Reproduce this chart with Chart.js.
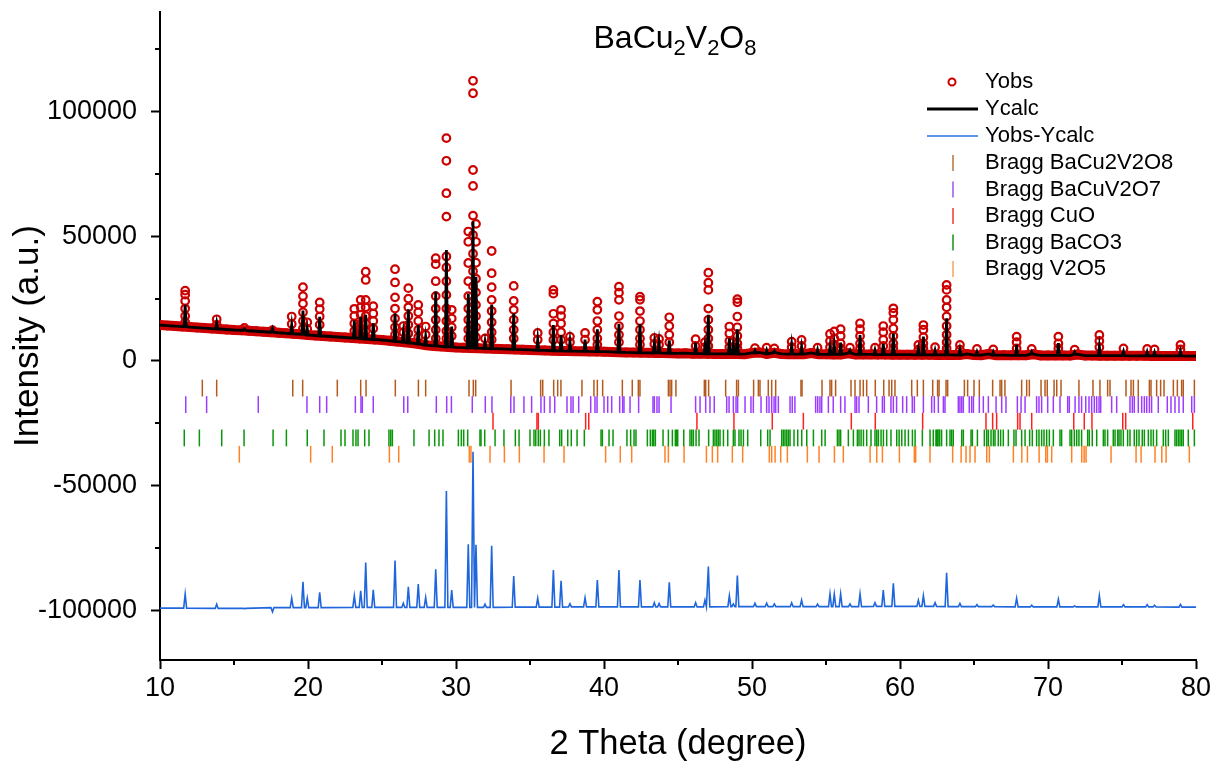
<!DOCTYPE html>
<html>
<head>
<meta charset="utf-8">
<script src="https://cdn.jsdelivr.net/npm/chart.js@4.4.1/dist/chart.umd.min.js"></script>
<style>
  body { margin: 0; background: #fff; }
</style>
</head>
<body>
<canvas id="xrd" width="1214" height="762"></canvas>
<script>
// observed background band, every 0.5 degree from 10 to 80
const bgStart = 10, bgStep = 0.5;
const bgObs = [
  14400,14200,14000,13800,13600,13400,13200,13000,12800,12600,
  12400,12300,12100,11900,11700,11500,11300,11100,10900,10700,
  10400,10200,10000,9800,9600,9400,9200,9000,8800,8600,
  8400,8100,7800,7500,7200,6800,6300,6000,5800,5600,
  5400,5300,5200,5100,5000,4900,4800,4700,4600,4500,
  4400,4300,4200,4100,4000,3950,3900,3850,3800,3750,
  3700,3600,3500,3400,3350,3300,3250,3200,3150,3100,
  3000,3100,2900,2900,2850,2800,2800,2800,2750,2700,
  3200,3400,2800,3300,2800,2700,2700,2700,3200,2700,
  2650,2600,2600,3100,2600,2600,2600,2550,2550,2500,
  2500,2500,2450,2450,2450,2400,2400,2400,2350,2800,
  2350,2300,2800,2300,2300,2250,2250,2250,2700,2200,
  2200,2200,2200,2150,2600,2150,2150,2100,2100,2100,
  2100,2050,2050,2050,2000,2000,2000,2000,2000,1950,
  1950
];

// difference curve baseline, every 5 degrees from 10 to 80
const diffBase = [-99200,-99300,-99000,-98900,-98900,-98800,-98700,-98700,-98600,-98600,-98500,-98600,-98700,-98700,-98800];

// reflections: position, observed circles, calc top, difference top
const peakPos = [11.7,13.83,15.7,17.6,18.9,19.66,19.95,20.79,23.13,23.56,23.9,24.41,25.88,26.44,26.78,27.45,27.95,28.63,29.35,29.71,
  30.83,31.15,31.35,31.96,32.41,33.9,35.52,36.58,37.1,37.7,38.72,39.55,41.01,42.43,43.4,43.72,44.41,46.19,46.82,47.05,
  48.47,48.74,49.01,50.2,50.99,51.51,52.68,53.35,54.43,55.27,55.56,55.99,56.62,57.3,58.31,58.87,59.55,61.24,61.58,62.37,
  63.15,64.05,65.2,66.3,67.88,68.9,70.7,71.8,73.47,75.1,76.7,77.2,78.95];

const obsCircles = [
  [28200,26600,24000,21000,18000,15500],[16700,14500],[13200],[12300],[17800,14800],
  [29600,26000,23000,19500,16000,13000],[15500,12800],[23500,20800,17800,14500],[20900,18000,15000,12000],[24500,21500,18500,15000,12000],
  [35800,32500,24500,21500,18000,15000,12000],[22000,19000,16000,13000],[36800,31500,25500,21000,17000,13500,10500],[14000,11500],[29200,25000,21500,18000,14500,11000],
  [22500,19500,16000,12500,9500],[13800,10500],[41200,38800,32000,26000,21000,16500,12500,9000],
  [89400,80300,67300,57900,41900,37500,32000,26500,21000,16000,12000,9000],[20500,17000,13500,10000],
  [51900,47800,39300,32000,26000,21000,16500,12500,9000],
  [112400,107400,76600,70200,58300,50500,43000,36000,30000,24000,19000,14500,10500],
  [55000,47800,39400,33000,27500,22500,18000,13500,9500],[9000],[44100,35200,29600,24500,20000,15500,11500,8500],
  [30100,24100,20500,16500,12500,9000],[11200,8500],[28500,27000,18900,15000,11500,8500],[20500,18000,15000,11500,8500],[9750,7500],
  [11200,8500],[23800,20500,16000,12500,9000,6500],[29800,27400,24500,18000,14000,10500,7500],[25800,24500,20000,16000,12500,9000,6500],[9200,6800],
  [8800,6500],[17500,14000,10500,7500],[8700,6000],[7500,5500],[35400,31400,28500,21000,16500,12500,9000,6000],
  [13800,11000,8000,5500],[7500,5500],[24800,23500,17800,13500,10000,7000,5000],[5100],[5300],
  [5000],[7700,5500],[8400,6000],[5300],[10800,8000,5500],
  [11800,9000,6500],[12700,10000,7000,5000],[5300],[15100,12700,10000,7000,5000],[5300],
  [14000,11500,8500,6000],[21100,19300,16500,13000,10000,7000,5000],[6400,4500],[14400,12500,9500,7000,5000],[5500],
  [30500,28500,24500,21500,17800,14000,10500,7500,5000],[6400,4500],[4800],[4600],[9750,7500,5000],
  [4800],[9750,7000,5000],[4500],[10400,8000,5500],[5000],[4800],[4600],[6400,4600]
];

const calcTop = [22500,15200,12800,13000,14400,20200,13000,17700,16200,17800,18500,15100,19100,11200,20700,14400,9750,27800,44500,13800,
  26900,55900,33800,7700,22500,19100,8400,14400,10400,7700,8500,12700,14800,14800,7000,7200,8200,7300,6000,18500,
  9100,6000,12700,4200,4200,4000,6400,5600,4400,5600,6400,7300,4300,10400,4300,6800,11100,4800,9750,4200,
  17100,4500,3600,3500,6400,3600,7100,3500,5600,3800,3500,3400,3800];

const diffTop = [-93600,-97600,-99400,-100700,-95200,-88600,-95200,-92800,-94200,-92200,-80900,-91800,-80100,-97200,-90600,-89500,-94900,-83600,-52200,-91900,
  -73600,-36400,-73800,-97600,-74200,-86300,-95200,-83900,-88200,-97400,-95000,-87900,-83900,-87900,-97000,-97300,-88800,-97000,-96000,-82500,
  -94200,-97500,-86100,-97200,-97200,-97500,-97000,-96000,-97600,-93500,-93600,-93500,-97500,-93500,-97000,-91900,-89200,-96000,-94200,-97000,
  -85000,-97300,-97800,-98000,-95200,-98000,-95600,-98300,-94200,-97800,-97800,-98000,-97700];

// Bragg tick positions (2 theta)
const braggBaCu2V2O8 = [12.86,13.83,18.97,19.64,21.98,23.56,23.92,25.9,27.46,27.95,30.88,31.17,31.33,33.72,35.72,35.86,36.6,36.87,37.09,38.51,
  39.32,39.55,39.91,41.24,41.91,42.32,42.43,44.35,44.46,44.57,44.86,46.78,46.87,47.07,48.22,48.96,49.08,50.11,50.43,50.54,
  51.1,51.33,51.6,53.31,53.38,54.73,55.27,55.38,55.65,56.69,56.96,57.3,57.52,57.75,58.33,58.9,59.26,59.44,59.66,60.79,
  61.17,61.58,62.21,62.54,62.64,63.11,63.22,64.35,64.57,65.0,65.36,66.26,66.76,66.87,67.09,68.22,68.56,68.74,69.53,69.8,
  69.95,70.41,70.59,70.88,72.09,73.04,73.51,74.03,74.19,75.27,75.61,75.77,76.1,76.85,76.96,77.34,77.61,77.84,78.47,78.74,
  79.03,79.14,79.89];
const braggBaCuV2O7 = [11.74,13.15,16.64,19.93,20.79,21.26,23.2,23.58,23.67,24.41,26.47,26.74,28.67,29.37,29.69,31.1,31.98,32.43,33.7,33.92,
  34.59,35.11,35.74,35.97,36.35,36.67,37.5,37.77,37.91,38.29,39.1,39.39,39.53,40.0,40.25,40.52,41.06,41.26,41.35,41.76,
  42.34,43.31,43.4,43.58,43.72,44.53,46.19,46.49,46.87,47.16,47.45,48.29,48.45,48.74,48.92,49.03,49.53,49.93,50.09,50.61,
  50.99,51.15,51.33,51.49,51.6,51.78,52.57,52.72,52.9,54.3,54.44,54.59,54.71,55.16,55.49,55.99,56.28,56.96,57.07,57.23,
  57.86,58.42,58.81,58.94,59.39,59.55,59.77,60.18,60.45,60.83,60.97,61.58,62.14,62.32,62.59,62.93,63.04,63.94,64.05,64.17,
  64.28,64.68,64.84,64.96,65.36,65.63,65.97,66.49,66.87,67.16,67.93,68.18,68.45,69.23,69.39,69.57,69.98,70.36,70.81,71.33,
  71.44,71.83,72.09,72.27,72.55,72.77,72.95,73.13,73.29,73.45,73.56,74.3,74.64,75.54,75.7,75.83,76.1,76.33,76.51,76.67,
  76.85,77.0,77.45,78.06,78.31,78.58,78.85,79.14,79.71,79.89];
const braggCuO = [32.5,35.47,35.56,38.76,38.97,46.28,48.78,51.37,53.47,56.71,58.33,61.53,65.81,66.26,66.53,67.95,68.11,68.9,71.74,72.45,
  72.97,75.05,75.25,79.78];
const braggBaCO3 = [11.64,12.66,14.17,15.68,17.64,18.54,19.95,21.08,22.23,22.5,23.04,23.24,23.38,23.83,24.12,25.47,25.59,25.7,27.16,
  28.18,28.56,28.85,29.12,30.16,30.36,30.52,30.79,31.62,31.69,31.94,32.64,33.24,34.01,34.26,35.0,35.27,35.39,35.56,35.7,35.97,
  36.28,37.01,37.14,37.55,37.79,38.18,38.67,39.8,39.89,40.34,40.61,41.55,41.8,42.03,42.16,42.93,43.13,43.27,43.36,43.47,
  43.99,44.35,44.62,44.82,44.98,44.91,45.39,45.81,45.93,46.04,46.22,46.42,47.07,47.39,47.5,47.62,47.73,47.84,48.07,48.36,
  48.74,48.85,49.12,49.26,49.42,49.71,50.59,51.06,51.22,52.01,52.12,52.23,52.35,52.46,52.57,52.84,53.09,53.36,53.7,54.15,
  54.71,54.94,55.77,55.88,55.99,56.51,56.85,57.12,57.23,57.37,57.53,57.75,58.04,58.31,58.43,58.54,58.72,58.88,59.1,59.39,
  59.78,59.94,60.12,60.34,60.57,60.84,61.02,61.51,62.03,62.25,62.48,62.64,62.43,62.55,62.68,62.81,63.15,63.38,63.49,63.6,
  64.17,64.28,64.8,64.89,65.23,65.7,65.86,65.97,66.15,66.31,66.42,66.64,66.8,66.98,67.32,67.7,67.84,68.22,68.45,68.76,
  68.94,69.23,69.39,69.57,69.73,69.91,70.09,70.36,70.81,70.92,71.49,71.6,71.78,71.94,72.09,72.27,72.68,72.79,72.99,73.29,
  73.74,73.85,74.03,74.41,74.53,74.71,74.8,74.93,75.09,75.38,75.54,75.83,75.99,76.15,76.37,76.51,76.78,76.96,77.12,77.34,
  77.79,77.95,78.13,78.58,78.69,78.81,78.92,79.03,79.14,79.48,79.89];
const braggV2O5 = [15.36,20.18,21.64,25.5,26.13,30.9,31.01,32.3,33.27,34.28,35.95,37.3,40.11,41.1,41.87,44.12,44.35,45.41,46.92,47.32,
  47.68,48.67,49.37,51.17,51.33,51.56,51.94,52.39,53.74,54.53,55.57,56.17,57.98,58.43,58.81,59.96,60.97,61.06,62.03,63.56,
  64.13,64.46,64.73,65.07,65.86,66.04,67.66,68.23,68.61,69.4,69.85,69.96,70.25,71.6,72.28,72.44,72.57,74.26,75.95,76.29,
  77.23,77.69,77.98,79.55];

// row heights of the Bragg tick rows
const braggRows = [-10900, -17500, -24200, -30900, -37450];
const braggNames = ['Bragg BaCu2V2O8', 'Bragg BaCuV2O7', 'Bragg CuO', 'Bragg BaCO3', 'Bragg V2O5'];
const braggColors = ['#b45a1e', '#9b3cff', '#ff2020', '#0a960a', '#ff8226'];
const braggLegendColors = ['#c8946a', '#b67ef6', '#f26a6a', '#4cae4c', '#f8ba84'];

const majorX = [10, 20, 30, 40, 50, 60, 70, 80];
const minorX = [15, 25, 35, 45, 55, 65, 75];
const majorY = [-100000, -50000, 0, 50000, 100000];
const minorY = [-75000, -25000, 25000, 75000, 125000];

const FONT = 'Arial, "Liberation Sans", Helvetica, sans-serif';
Chart.defaults.font.family = FONT;
Chart.defaults.color = '#000';

// build point lists
const bgX = bgObs.map((v, i) => bgStart + i * bgStep);
const baseAt = x => bgObs[Math.round((x - bgStart) / bgStep)];
const diffBaseAt = x => diffBase[Math.round((x - 10) / 5)];
const nearPeak = (x, w) => peakPos.some(p => Math.abs(p - x) < w);

const bandPts = bgX.map((x, i) => ({x, y: bgObs[i]}));

const obsPts = bandPts.slice();
peakPos.forEach((p, i) => obsCircles[i].forEach(v => obsPts.push({x: p, y: v})));

const calcPts = bgX.filter(x => !nearPeak(x, 0.09)).map(x => ({x, y: baseAt(x)}));
peakPos.forEach((p, i) => {
  const b = baseAt(p);
  calcPts.push({x: p - 0.07, y: b}, {x: p, y: calcTop[i]}, {x: p + 0.07, y: b});
});
calcPts.sort((a, b) => a.x - b.x);

const diffPts = diffBase.map((v, i) => ({x: 10 + i * 5, y: v})).filter(pt => !nearPeak(pt.x, 0.12));
peakPos.forEach((p, i) => {
  const b = diffBaseAt(p);
  diffPts.push({x: p - 0.1, y: b}, {x: p, y: diffTop[i]}, {x: p + 0.1, y: b});
});
diffPts.sort((a, b) => a.x - b.x);

const braggLists = [braggBaCu2V2O8, braggBaCuV2O7, braggCuO, braggBaCO3, braggV2O5];
const braggSets = braggLists.map((list, k) => ({
  label: braggNames[k],
  data: list.map(x => ({x, y: braggRows[k]})),
  showLine: false,
  pointStyle: 'line',
  pointRotation: 90,
  pointRadius: 8.4,
  pointBorderWidth: 1.5,
  pointBorderColor: braggColors[k],
  pointBackgroundColor: braggColors[k],
  order: 0
}));

// title with subscripts, legend and minor ticks
const extras = {
  id: 'extras',
  afterDraw(chart) {
    const ctx = chart.ctx;
    const xs = chart.scales.x, ys = chart.scales.y;
    const area = chart.chartArea;
    ctx.save();
    ctx.strokeStyle = '#000';
    ctx.lineWidth = 2;
    minorX.forEach(v => {
      const px = Math.round(xs.getPixelForValue(v));
      ctx.beginPath(); ctx.moveTo(px, area.bottom); ctx.lineTo(px, area.bottom + 5); ctx.stroke();
    });
    minorY.forEach(v => {
      const py = Math.round(ys.getPixelForValue(v));
      ctx.beginPath(); ctx.moveTo(area.left, py); ctx.lineTo(area.left - 5, py); ctx.stroke();
    });

    // title
    ctx.fillStyle = '#000';
    ctx.textAlign = 'left';
    ctx.textBaseline = 'alphabetic';
    const parts = [['BaCu', 0], ['2', 1], ['V', 0], ['2', 1], ['O', 0], ['8', 1]];
    const bigF = '32px ' + FONT, smallF = '22px ' + FONT;
    let w = 0;
    parts.forEach(([t, s]) => { ctx.font = s ? smallF : bigF; w += ctx.measureText(t).width; });
    let cx = 675 - w / 2;
    parts.forEach(([t, s]) => {
      ctx.font = s ? smallF : bigF;
      ctx.fillText(t, cx, s ? 55 : 48);
      cx += ctx.measureText(t).width;
    });

    // legend
    const tx = 985;
    ctx.font = '22px ' + FONT;
    ctx.textAlign = 'left';
    ctx.textBaseline = 'middle';
    const rows = [82, 109, 136, 163, 189.5, 216, 242.5, 269];
    ctx.strokeStyle = '#cc0000'; ctx.lineWidth = 2;
    ctx.beginPath(); ctx.arc(952, rows[0], 3.5, 0, Math.PI * 2); ctx.stroke();
    ctx.fillText('Yobs', tx, rows[0]);
    ctx.strokeStyle = '#000'; ctx.lineWidth = 3;
    ctx.beginPath(); ctx.moveTo(927, rows[1]); ctx.lineTo(978, rows[1]); ctx.stroke();
    ctx.fillText('Ycalc', tx, rows[1]);
    ctx.strokeStyle = '#2a6fdc'; ctx.lineWidth = 1.5;
    ctx.beginPath(); ctx.moveTo(927, rows[2]); ctx.lineTo(978, rows[2]); ctx.stroke();
    ctx.fillText('Yobs-Ycalc', tx, rows[2]);
    braggNames.forEach((name, k) => {
      const y = rows[3 + k];
      ctx.strokeStyle = braggLegendColors[k]; ctx.lineWidth = 2;
      ctx.beginPath(); ctx.moveTo(953, y - 8); ctx.lineTo(953, y + 8); ctx.stroke();
      ctx.fillText(name, tx, y);
    });
    ctx.restore();
  }
};

new Chart(document.getElementById('xrd'), {
  type: 'scatter',
  data: {
    datasets: [
      {
        label: 'Yobs',
        data: obsPts,
        showLine: false,
        pointStyle: 'circle',
        pointRadius: 3.8,
        pointBorderWidth: 2.2,
        pointBorderColor: '#cc0000',
        pointBackgroundColor: 'rgba(255,255,255,0)',
        order: 3
      },
      {
        label: 'Ycalc',
        data: calcPts,
        showLine: true,
        borderColor: '#000',
        borderWidth: 2.8,
        pointRadius: 0,
        tension: 0,
        order: 1
      },
      {
        label: 'Yobs-Ycalc',
        data: diffPts,
        showLine: true,
        borderColor: '#1f66dc',
        borderWidth: 1.6,
        pointRadius: 0,
        tension: 0,
        order: 2
      },
      ...braggSets,
      {
        label: 'band',
        data: bandPts,
        showLine: true,
        borderColor: '#d20000',
        borderWidth: 10,
        pointRadius: 0,
        tension: 0,
        order: 4
      }
    ]
  },
  options: {
    responsive: false,
    devicePixelRatio: 1,
    animation: false,
    events: [],
    layout: { padding: { top: 12, right: 18, left: 0, bottom: 0 } },
    plugins: {
      legend: { display: false },
      tooltip: { enabled: false },
      title: { display: false }
    },
    scales: {
      x: {
        type: 'linear',
        min: 10,
        max: 80,
        afterFit: s => { s.height = 102; s.paddingLeft = 0; s.paddingRight = 0; },
        afterBuildTicks: s => { s.ticks = majorX.map(v => ({value: v})); },
        border: { display: true, color: '#000', width: 2 },
        grid: { drawOnChartArea: false, drawTicks: true, tickLength: 9, tickWidth: 2, tickColor: '#000' },
        ticks: { font: { size: 27 }, color: '#000', padding: 3, autoSkip: false, maxRotation: 0 },
        title: { display: true, text: '2 Theta (degree)', font: { size: 34.5, lineHeight: 1 }, padding: { top: 0, bottom: 0 }, color: '#000' }
      },
      y: {
        type: 'linear',
        min: -120000,
        max: 140000,
        afterFit: s => { s.width = 160; s.paddingTop = 0; s.paddingBottom = 0; },
        afterBuildTicks: s => { s.ticks = majorY.map(v => ({value: v})); },
        border: { display: true, color: '#000', width: 2 },
        grid: { drawOnChartArea: false, drawTicks: true, tickLength: 9, tickWidth: 2, tickColor: '#000' },
        ticks: { font: { size: 27 }, color: '#000', padding: 14, autoSkip: false, callback: v => String(v) },
        title: { display: true, text: 'Intensity (a.u.)', font: { size: 35, lineHeight: 1 }, padding: { top: 11, bottom: 0 }, color: '#000' }
      }
    }
  },
  plugins: [extras]
});
</script>
</body>
</html>
